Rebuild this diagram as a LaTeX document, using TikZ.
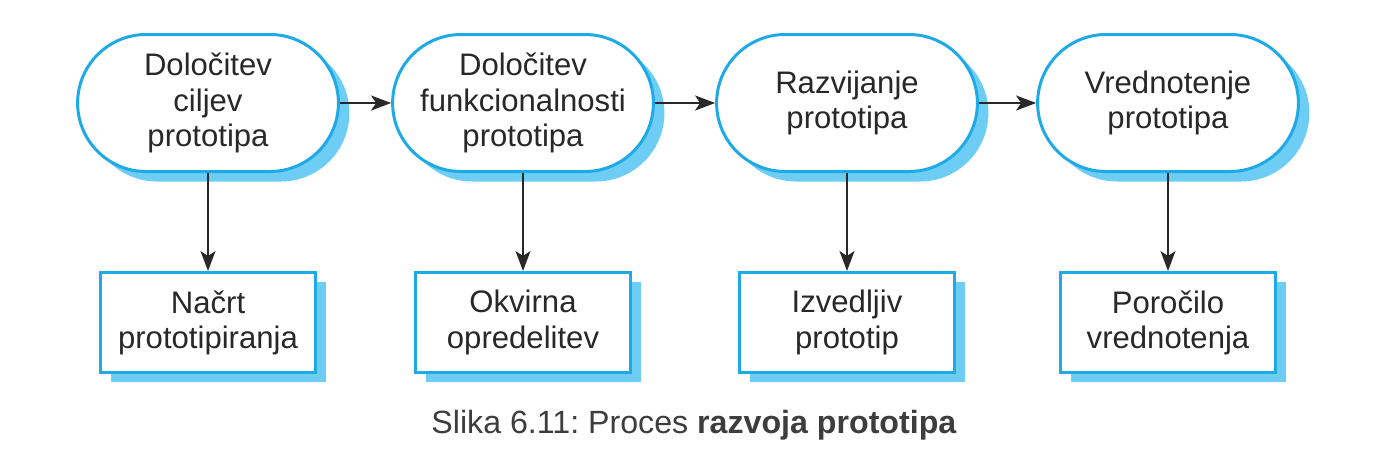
\documentclass[tikz,border=0pt]{standalone}
\usepackage{fontspec}
\setmainfont{Liberation Sans}
\usepackage{tikz}
\usetikzlibrary{positioning, arrows.meta, shapes.misc, shadows}

\definecolor{protoblue}{RGB}{30,170,230}
\definecolor{protoshade}{RGB}{110,205,245}
\definecolor{protoink}{RGB}{40,40,40}

\begin{document}
\begin{tikzpicture}[
  font=\fontsize{17.7}{20}\selectfont,
  % Process steps (stadium shapes)
  stepstadium/.style={rounded rectangle, draw=protoblue, line width=1.7pt, fill=white,
    minimum width=5.45cm, minimum height=2.74cm, align=center, text=protoink,
    drop shadow={shadow xshift=0.22cm, shadow yshift=-0.2cm, fill=protoshade, opacity=1}},
  % Results of each step
  resultbox/.style={rectangle, draw=protoblue, line width=1.7pt, fill=white,
    minimum width=4.3cm, minimum height=2cm, align=center, text=protoink,
    drop shadow={shadow xshift=0.2cm, shadow yshift=-0.2cm, fill=protoshade, opacity=1}},
  flow/.style={-{Stealth[length=0.4cm, width=0.3cm, inset=0.1cm]}, draw=protoink, line width=1pt},
  node distance=1.96cm
]
  \useasboundingbox (0,0) rectangle (27.94,-9.08);

  % Steps
  \node[stepstadium] (goals) at (4.16,-2.06) {Določitev\\ciljev\\prototipa};
  \node[stepstadium] (func) at (10.46,-2.06) {Določitev\\funkcionalnosti\\prototipa};
  \node[stepstadium] (dev) at (16.94,-2.06) {Razvijanje\\prototipa};
  \node[stepstadium] (eval) at (23.36,-2.06) {Vrednotenje\\prototipa};

  % Results
  \node[resultbox, below=of goals] (plan) {Načrt\\prototipiranja};
  \node[resultbox, below=of func] (frame) {Okvirna\\opredelitev};
  \node[resultbox, below=of dev] (exec) {Izvedljiv\\prototip};
  \node[resultbox, below=of eval] (report) {Poročilo\\vrednotenja};

  % Connectors
  \draw[flow] (goals) -- (func);
  \draw[flow] (func) -- (dev);
  \draw[flow] (dev) -- (eval);
  \draw[flow] (goals) -- (plan);
  \draw[flow] (func) -- (frame);
  \draw[flow] (dev) -- (exec);
  \draw[flow] (eval) -- (report);

  % Caption
  \node[font=\fontsize{18.3}{22}\selectfont\frenchspacing, text=protoink!90] (caption) at (13.88,-8.5)
    {Slika 6.11: Proces \textbf{razvoja prototipa}};
\end{tikzpicture}
\end{document}
